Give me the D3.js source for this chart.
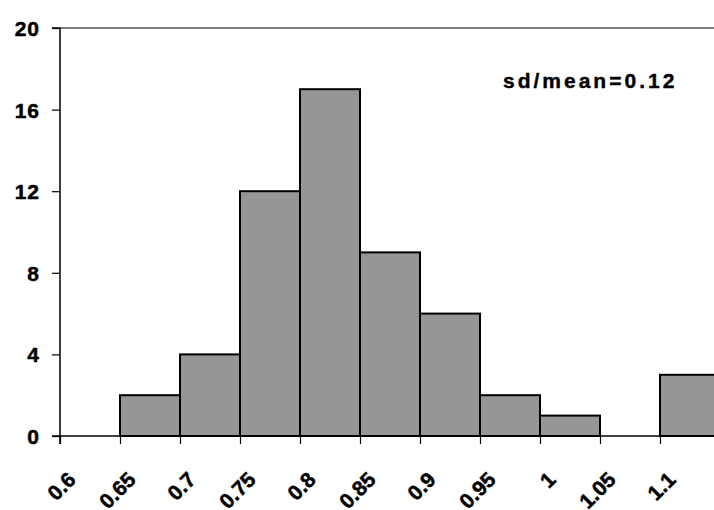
<!DOCTYPE html>
<html>
<head>
<meta charset="utf-8">
<script src="https://cdn.jsdelivr.net/npm/d3@7"></script>
<style>
  body { margin: 0; background: #fff; }
  text { font-family: "Liberation Sans", Arial, sans-serif; font-weight: bold; fill: #000; }
</style>
</head>
<body>
<div id="chart"></div>
<script>
// bin start values and counts
const binStarts = [0.6, 0.65, 0.7, 0.75, 0.8, 0.85, 0.9, 0.95, 1.0, 1.05, 1.1];
const counts = [0, 2, 4, 12, 17, 9, 6, 2, 1, 0, 3];
const xTickLabels = ["0.6", "0.65", "0.7", "0.75", "0.8", "0.85", "0.9", "0.95", "1", "1.05", "1.1"];
const yTicks = [0, 4, 8, 12, 16, 20];
const note = "sd/mean=0.12";
const binWidth = 0.05;

const width = 714;
const height = 510;

const svg = d3.select('#chart').append('svg')
    .attr('width', width)
    .attr('height', height);

const x = d3.scaleLinear()
    .domain([0.6, 1.15])
    .range([60, 720]);

const y = d3.scaleLinear()
    .domain([0, 20])
    .range([436, 28]);

// top border of the plot area
svg.append('line')
    .attr('x1', x(0.6))
    .attr('x2', width + 10)
    .attr('y1', y(20))
    .attr('y2', y(20))
    .attr('stroke', '#000')
    .attr('stroke-width', 1.2);

// bars
svg.append('g')
    .selectAll('rect')
    .data(binStarts.map((b, i) => ({ b: b, n: counts[i] })).filter(d => d.n > 0))
    .join('rect')
    .attr('x', d => x(d.b))
    .attr('y', d => y(d.n))
    .attr('width', d => x(d.b + binWidth) - x(d.b))
    .attr('height', d => y(0) - y(d.n))
    .attr('fill', '#969696')
    .attr('stroke', '#000')
    .attr('stroke-width', 2);

// y axis
const yAxis = svg.append('g')
    .attr('transform', `translate(${x(0.6)},0)`)
    .call(d3.axisLeft(y).tickValues(yTicks).tickSize(8).tickPadding(12));
yAxis.select('.domain').attr('stroke', '#000').attr('stroke-width', 1.5)
    .attr('d', `M-8,${y(20)}H0V${y(0) + 8}`);
yAxis.selectAll('.tick line').attr('stroke', '#000').attr('stroke-width', 1.2);
yAxis.selectAll('.tick text')
    .attr('font-size', null)
    .attr('font-family', null)
    .style('font-size', '21px')
    .style('font-weight', 'bold')
    .style('stroke', '#000')
    .style('stroke-width', '0.5px')
    .style('letter-spacing', '1px')
    .attr('dy', '0.36em');

// x axis
const xAxis = svg.append('g')
    .attr('transform', `translate(0,${y(0)})`)
    .call(d3.axisBottom(x).tickValues(binStarts).tickSize(8).tickFormat(''));
xAxis.select('.domain').attr('stroke', '#000').attr('stroke-width', 1.5)
    .attr('d', `M${x(0.6) - 8},0H${width + 10}`);
xAxis.selectAll('.tick line').attr('stroke', '#000').attr('stroke-width', 1.2);

svg.append('g')
    .selectAll('text')
    .data(binStarts)
    .join('text')
    .attr('transform', (d, i) => `translate(${x(d) + 17},481) rotate(-45)`)
    .attr('text-anchor', 'end')
    .style('font-size', '21px')
    .style('stroke', '#000')
    .style('stroke-width', '0.5px')
    .text((d, i) => xTickLabels[i]);

// annotation
svg.append('text')
    .attr('x', 503)
    .attr('y', 88)
    .style('font-size', '21px')
    .style('letter-spacing', '3px')
    .style('stroke', '#000')
    .style('stroke-width', '0.4px')
    .text(note);
</script>
</body>
</html>
